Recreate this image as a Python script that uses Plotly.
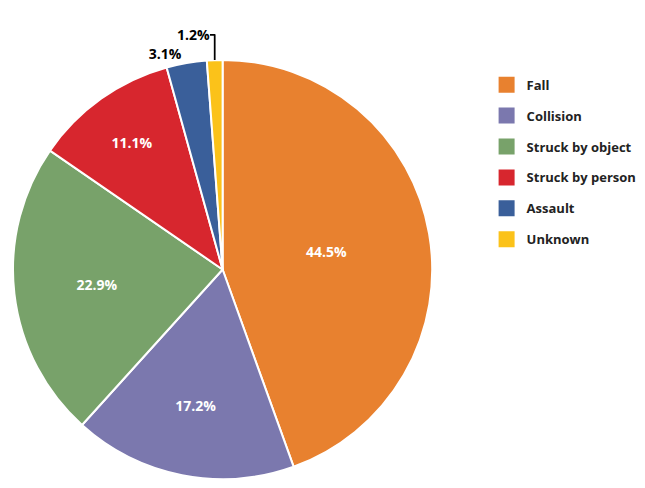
import plotly.graph_objects as go

labels = ["Fall", "Collision", "Struck by object", "Struck by person", "Assault", "Unknown"]
values = [44.5, 17.2, 22.9, 11.1, 3.1, 1.2]
colors = ["#E8812F", "#7B78AE", "#78A26A", "#D7262E", "#3A5F9A", "#FBC21A"]
positions = ["inside", "inside", "inside", "inside", "outside", "outside"]
text_colors = ["white", "white", "white", "white", "black", "black"]

fig = go.Figure(go.Pie(
    labels=labels, values=values, sort=False, direction="clockwise", rotation=0,
    marker=dict(colors=colors, line=dict(color="white", width=2)),
    texttemplate="%{value:.1f}%", textposition=positions,
    textfont=dict(family="Open Sans", size=14, color=text_colors, weight="bold"),
    insidetextorientation="horizontal", showlegend=False,
    domain=dict(x=[0, 0.655], y=[0.0, 1.0]),
))
for lab, col in zip(labels, colors):
    fig.add_trace(go.Scatter(
        x=[None], y=[None], mode="markers", name=lab, legendgroup=lab,
        marker=dict(symbol="square", size=22, color=col),
    ))
fig.update_layout(
    width=645, height=488, margin=dict(l=0, r=0, t=0, b=0),
    paper_bgcolor="white", plot_bgcolor="white",
    xaxis=dict(visible=False), yaxis=dict(visible=False),
    legend=dict(x=0.74, y=0.955, xanchor="left", yanchor="top",
                font=dict(family="Open Sans", size=13, color="#222", weight="bold"),
                tracegroupgap=11, itemsizing="trace"),
)
fig.write_html("out.html")
